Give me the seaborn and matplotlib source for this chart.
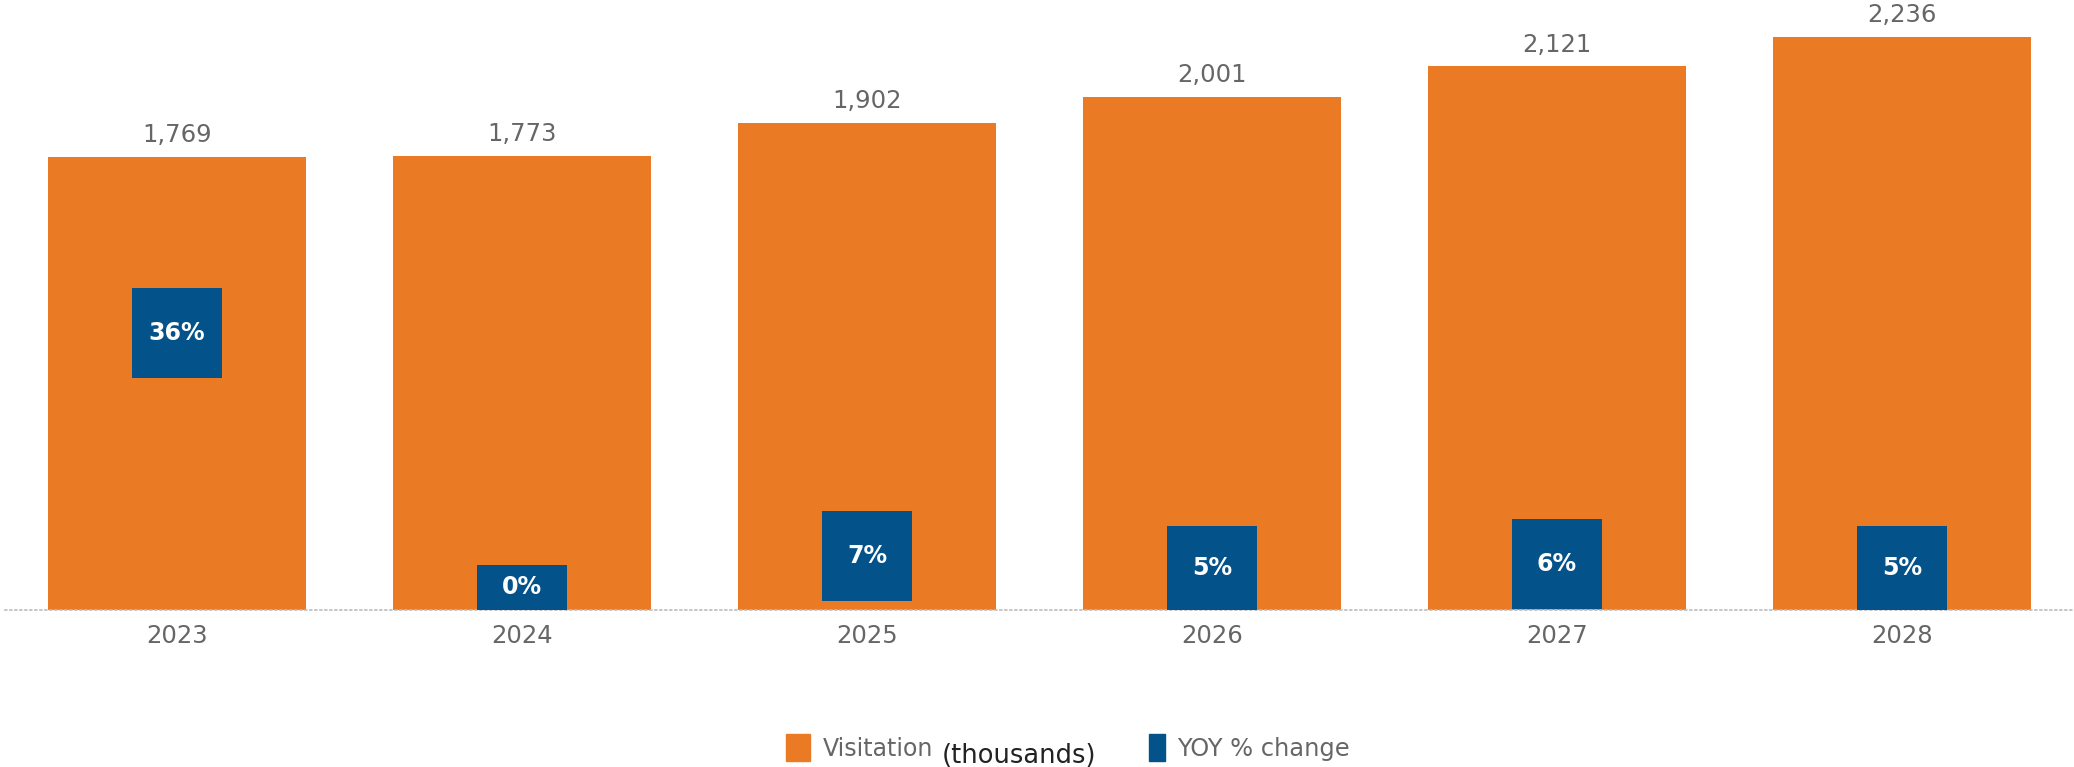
import numpy as np
import matplotlib
matplotlib.use("Agg")
import matplotlib.pyplot as plt
import seaborn as sns
from matplotlib.patches import Rectangle

years = ["2023", "2024", "2025", "2026", "2027", "2028"]
visitation = [1769, 1773, 1902, 2001, 2121, 2236]
yoy_change = [36, 0, 7, 5, 6, 5]

ORANGE = "#EB7A25"
BLUE = "#03528A"
GRAY = "#666666"

sns.set_theme(style="white")
plt.rcParams["font.family"] = ["DejaVu Sans"]

W, H = 2074, 767
fig = plt.figure(figsize=(W / 100, H / 100), dpi=100)
ax = fig.add_axes([4.5 / W, 157 / H, 2070 / W, 1 - 157 / H])

sns.barplot(x=years, y=visitation, color=ORANGE, saturation=1, width=0.75,
            ax=ax, edgecolor="none")
ax.set_xlim(-0.5, 5.5)
ax.set_ylim(0, 2380)
ax.bar_label(ax.containers[0], labels=[f"{v:,}" for v in visitation],
             padding=7, fontsize=17.5, color=GRAY)

for s in ["top", "left", "right"]:
    ax.spines[s].set_visible(False)
ax.spines["bottom"].set_linestyle((0, (1, 2)))
ax.spines["bottom"].set_color("#BBBBBB")
ax.spines["bottom"].set_linewidth(1.2)
ax.set_yticks([])
ax.set_xlabel("")
ax.set_ylabel("")
ax.tick_params(axis="x", which="major", length=0, pad=10, labelsize=17.5,
               labelcolor=GRAY)
ax.set_xticks(np.arange(-0.5, 6.0, 1.0), minor=True)
ax.tick_params(axis="x", which="minor", length=9, color="#D0D0D0", width=1.2,
               direction="out")

# YOY % change on a secondary scale, shown as boxes
ax2 = ax.twinx()
ax2.set_ylim(0, 79.2)
BOX = 11.7
pos = np.arange(len(years))
yoy = np.array(yoy_change, dtype=float)
ax2.bar(pos, BOX, bottom=yoy - BOX / 2, width=0.26, color=BLUE,
        edgecolor="none")
for x, v in zip(pos, yoy):
    lo = max(v - BOX / 2, 0)
    hi = v + BOX / 2
    ax2.text(x, (lo + hi) / 2, f"{int(v)}%", ha="center", va="center",
             color="white", fontsize=17, fontweight="bold")
ax2.set_yticks([])
for s in ax2.spines.values():
    s.set_visible(False)

# Legend
fig.add_artist(Rectangle((786 / W, (H - 761) / H), 24 / W, 27 / H,
                         transform=fig.transFigure, color=ORANGE))
fig.text(823 / W, (H - 749) / H, "Visitation", ha="left", va="center",
         fontsize=17, color=GRAY)
fig.text(942 / W, (H - 756) / H, "(thousands)", ha="left", va="center",
         fontsize=18.5, color="#222222")
fig.add_artist(Rectangle((1149 / W, (H - 761) / H), 16 / W, 27 / H,
                         transform=fig.transFigure, color=BLUE))
fig.text(1177 / W, (H - 749) / H, "YOY % change", ha="left", va="center",
         fontsize=17.4, color=GRAY)

fig.savefig("out.png", dpi=100)
